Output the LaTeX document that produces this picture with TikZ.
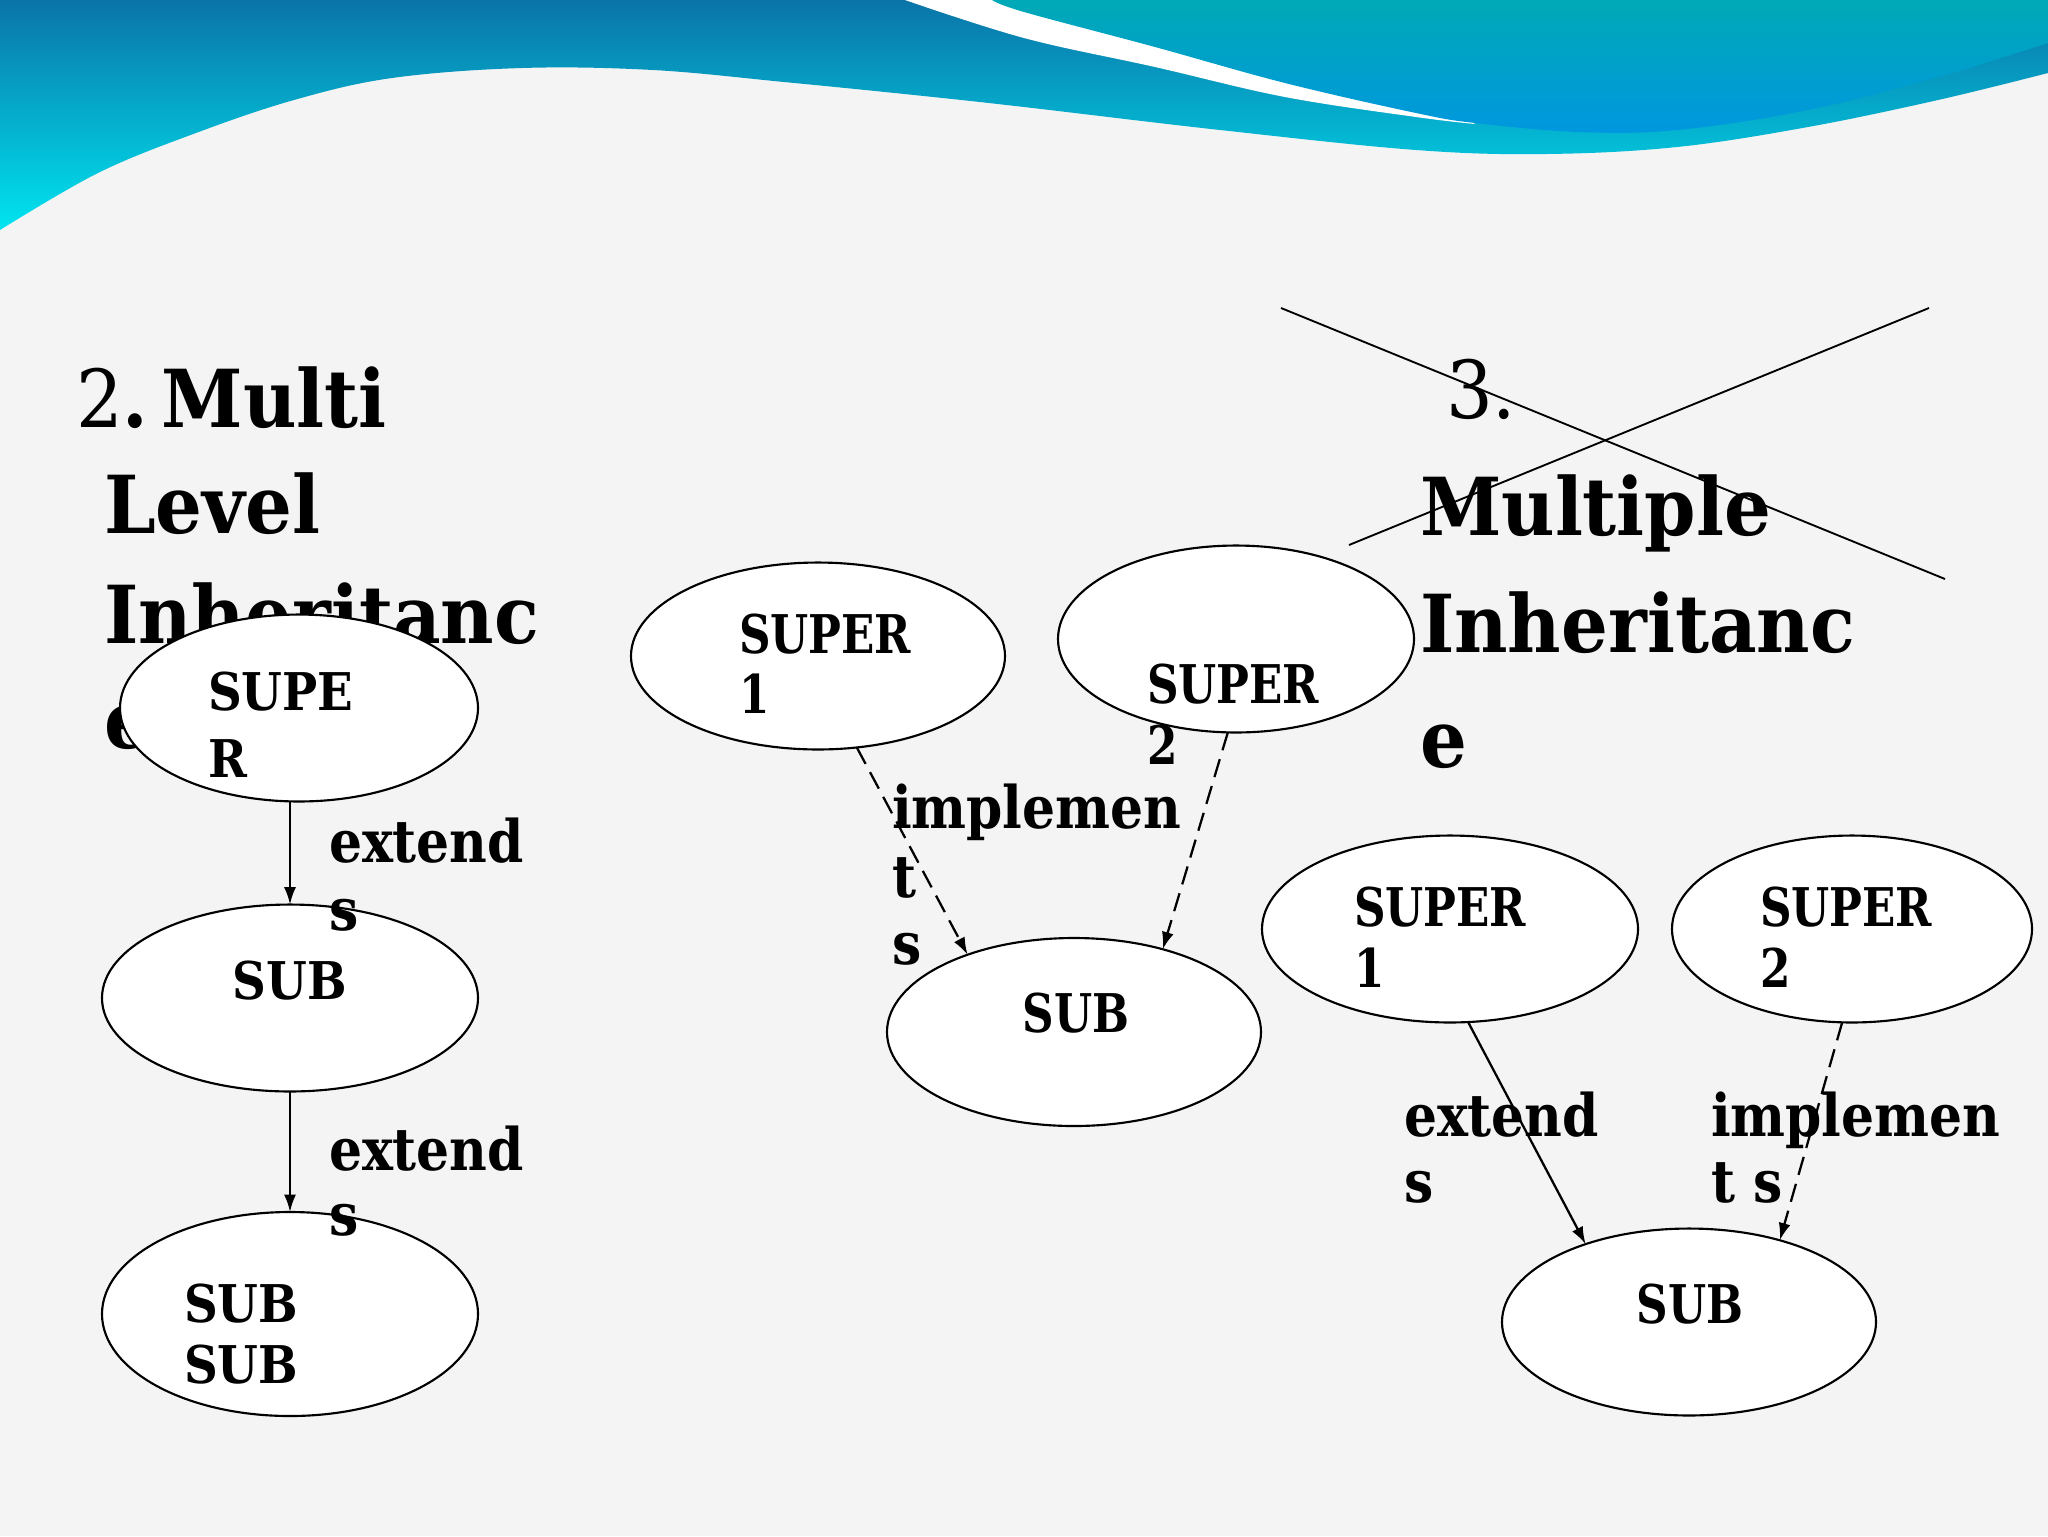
\documentclass[tikz,border=0pt]{standalone}
\usepackage{fontspec}
\setmainfont{DejaVu Serif}
\newfontfamily\tfont[FakeStretch=0.92]{DejaVu Serif}
\newfontfamily\lfont[FakeStretch=0.90]{DejaVu Serif}
\newfontfamily\cfont[FakeStretch=0.82]{DejaVu Serif}
\newfontfamily\efont[FakeStretch=0.885]{DejaVu Serif}
\usetikzlibrary{shapes.geometric,arrows.meta}
\definecolor{bgc}{HTML}{F4F4F4}
\definecolor{darkblue}{HTML}{0A74A8}
\definecolor{cyanbot}{HTML}{00E4F0}
\definecolor{blobtop}{HTML}{00A9B6}
\definecolor{blobbot}{HTML}{0097DF}
\begin{document}
\begin{tikzpicture}[x=0.375pt,y=-0.375pt,
  ell/.style={ellipse, draw=black, line width=0.8pt, fill=white, inner sep=0pt, outer sep=0pt},
  ttl/.style={anchor=base west, inner sep=0pt, outer sep=0pt, font=\tfont\bfseries\fontsize{30}{36}\selectfont},
  lbl/.style={anchor=base west, inner sep=0pt, outer sep=0pt, font=\lfont\bfseries\fontsize{19.5}{24}\selectfont},
  clbl/.style={anchor=base west, inner sep=0pt, outer sep=0pt, font=\cfont\bfseries\fontsize{20}{24}\selectfont},
  elbl/.style={anchor=base west, inner sep=0pt, outer sep=0pt, font=\efont\bfseries\fontsize{22}{26}\selectfont},
  arr/.style={-{Latex[length=6.5pt,width=4.5pt]}, line width=0.85pt},
  dsh/.style={arr, dash pattern=on 7pt off 3.5pt}]
\useasboundingbox (0,0) rectangle (2048,1536);
\fill[bgc] (0,0) rectangle (2048,1536);
% top wave
\shade[top color=darkblue, bottom color=cyanbot]
  (0,0) -- (2048,0) -- (2048,73)
  -- plot[smooth, tension=0.6] coordinates {(2048,73) (1938,100) (1808,127) (1677,147) (1546,154) (1416,150) (1220,130) (1024,107) (914,95) (784,82) (653,70) (522,68) (392,78) (294,100) (196,133) (98,173) (0,230)}
  -- cycle;
\fill[white] (905,0)
  -- plot[smooth, tension=0.6] coordinates {(905,0) (1024,38) (1155,67) (1285,97) (1416,117) (1475,124)}
  -- (1300,0) -- cycle;
\shade[top color=blobtop, bottom color=blobbot]
  (992,0)
  -- plot[smooth, tension=0.6] coordinates {(992,0) (1024,12) (1155,47) (1285,83) (1416,113) (1475,123) (1579,132) (1677,130) (1808,110) (1938,77) (2048,43)}
  -- (2048,0) -- cycle;
% titles
\node[ttl] (t2a) at (76,427) {{\mdseries 2}.\hspace{5pt}Multi};
\node[ttl] (t2b) at (104,533) {Level};
\node[ttl] (t2c) at (104,643) {Inheritanc};
\node[ttl] (t2d) at (104,748) {e};
\node[ttl] (t3a) at (1446,418) {\mdseries 3.};
\node[ttl] (t3b) at (1420,535) {Multiple};
\node[ttl] (t3c) at (1420,652) {Inheritanc};
\node[ttl] (t3d) at (1420,767) {e};
% cross
\coordinate (xa) at (1281,308); \coordinate (xb) at (1945,579);
\coordinate (xc) at (1349,545); \coordinate (xd) at (1929,308);
\draw[line width=0.7pt] (xa) -- (xb);
\draw[line width=0.7pt] (xc) -- (xd);
% ellipses
\node[ell, minimum width=134.25pt, minimum height=70.1pt] (L1) at (299,708) {};
\node[ell, minimum width=141pt, minimum height=70.1pt] (L2) at (290,998) {};
\node[ell, minimum width=141pt, minimum height=76.5pt] (L3) at (290,1314) {};
\node[ell, minimum width=140.25pt, minimum height=70.1pt] (M1) at (818,656) {};
\node[ell, minimum width=133.5pt, minimum height=70.1pt] (M2) at (1236,639) {};
\node[ell, minimum width=140.25pt, minimum height=70.5pt] (M3) at (1074,1032) {};
\node[ell, minimum width=141pt, minimum height=70.1pt] (R1) at (1450,929) {};
\node[ell, minimum width=135pt, minimum height=70.1pt] (R2) at (1852,929) {};
\node[ell, minimum width=140.25pt, minimum height=70.1pt] (R3) at (1689,1322) {};
% connectors
\draw[arr] (L1.south -| L2.north) -- (L2.north);
\draw[arr] (L2.south) -- (L3.north);
\draw[dsh] (M1.-67) -- (M3.144);
\draw[dsh] (M2.265) -- (M3.43);
\draw[arr] (R1.-79) -- (R3.143.5);
\draw[dsh] (R2.264.6) -- (R3.42.6);
% labels
\node[lbl] (l1a) at (208,710) {SUPE};
\node[lbl] (l1b) at (208,777) {R};
\node[lbl, anchor=base] (l2a) at (290,999) {SUB};
\node[lbl] (l3a) at (184,1322) {SUB};
\node[lbl] (l3b) at (184,1383) {SUB};
\node[elbl] (e1a) at (329,862) {extend};
\node[elbl] (e1b) at (329,930) {s};
\node[elbl] (e2a) at (329,1170) {extend};
\node[elbl] (e2b) at (329,1235) {s};
\node[clbl] (m1a) at (739,653) {SUPER};
\node[clbl] (m1b) at (739,713) {1};
\node[clbl] (m2a) at (1147,703) {SUPER};
\node[clbl] (m2b) at (1147,764) {2};
\node[clbl, anchor=base] (m3a) at (1076,1032) {SUB};
\node[elbl] (i1a) at (892,828) {implemen};
\node[elbl] (i1b) at (892,897) {t};
\node[elbl] (i1c) at (892,964) {s};
\node[clbl] (r1a) at (1354,926) {SUPER};
\node[clbl] (r1b) at (1354,987) {1};
\node[clbl] (r2a) at (1760,926) {SUPER};
\node[clbl] (r2b) at (1760,987) {2};
\node[clbl, anchor=base] (r3a) at (1690,1323) {SUB};
\node[elbl] (x1a) at (1404,1136) {extend};
\node[elbl] (x1b) at (1404,1202) {s};
\node[elbl] (i2a) at (1711,1136) {implemen};
\node[elbl] (i2b) at (1711,1202) {t s};
\end{tikzpicture}
\end{document}
